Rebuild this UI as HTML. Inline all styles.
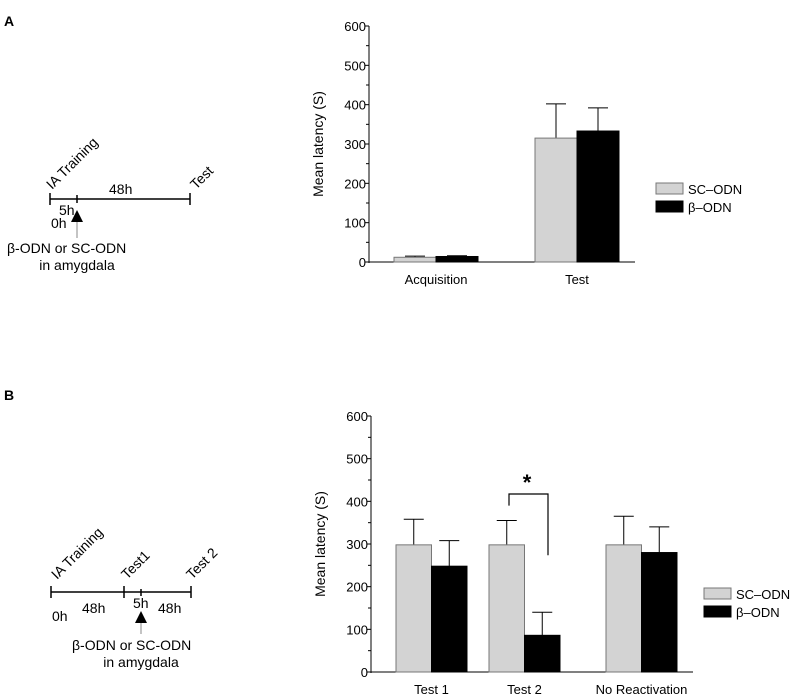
<!DOCTYPE html>
<html><head><meta charset="utf-8"><style>
html,body{margin:0;padding:0;background:#fff}
svg{display:block;font-family:"Liberation Sans",Arial,sans-serif}
</style></head><body>
<svg id="fig" width="797" height="696" viewBox="0 0 797 696">
<text x="4" y="26" font-size="14" font-weight="bold">A</text>
<text x="4" y="400" font-size="14" font-weight="bold">B</text>

<g stroke="#000" stroke-width="1.5" font-size="14">
<line x1="50" y1="199" x2="190" y2="199"/>
<line x1="50" y1="193" x2="50" y2="205"/>
<line x1="77" y1="195" x2="77" y2="203"/>
<line x1="190" y1="193" x2="190" y2="205"/>
<line x1="77" y1="222" x2="77" y2="238" stroke="#888" stroke-width="1"/>
<polygon points="77,210 71,222 83,222" fill="#000" stroke="none"/>
<g stroke="none" fill="#000">
<text transform="translate(52,190) rotate(-45)">IA Training</text>
<text transform="translate(196,190) rotate(-45)">Test</text>
<text x="109" y="194">48h</text>
<text x="59" y="215">5h</text>
<text x="51" y="228">0h</text>
<text x="7" y="253">β-ODN or SC-ODN</text>
<text x="77" y="270" text-anchor="middle">in amygdala</text>
</g></g>

<g stroke="#000" stroke-width="1.5" font-size="14">
<line x1="51" y1="592" x2="191" y2="592"/>
<line x1="51" y1="586" x2="51" y2="598"/>
<line x1="124" y1="586" x2="124" y2="598"/>
<line x1="141" y1="589" x2="141" y2="596"/>
<line x1="191" y1="586" x2="191" y2="598"/>
<line x1="141" y1="622" x2="141" y2="634" stroke="#888" stroke-width="1"/>
<polygon points="141,611 135,623 147,623" fill="#000" stroke="none"/>
<g stroke="none" fill="#000">
<text transform="translate(57,580) rotate(-45)">IA Training</text>
<text transform="translate(127,580) rotate(-45)">Test1</text>
<text transform="translate(192,580) rotate(-45)">Test 2</text>
<text x="52" y="621">0h</text>
<text x="82" y="613">48h</text>
<text x="133" y="608">5h</text>
<text x="158" y="613">48h</text>
<text x="72" y="650">β-ODN or SC-ODN</text>
<text x="141" y="667" text-anchor="middle">in amygdala</text>
</g></g>
<g id="chartA"></g>
<g id="chartB"></g>
</svg>
<script>
const catsA = ["Acquisition", "Test"];
const scA = [12, 315];
const scErrA = [15, 402];
const bA = [14, 333];
const bErrA = [16, 392];
const catsB = ["Test 1", "Test 2", "No Reactivation"];
const scB = [298, 298, 298];
const scErrB = [358, 355, 365];
const bB = [248, 86, 280];
const bErrB = [308, 140, 340];
const yTicks = [0, 100, 200, 300, 400, 500, 600];
const legendLabels = ["SC\u2013ODN", "\u03b2\u2013ODN"];
const NS = "http://www.w3.org/2000/svg";
function mk(parent, tag, attrs, text) {
  const e = document.createElementNS(NS, tag);
  for (const k in attrs) e.setAttribute(k, attrs[k]);
  if (text !== undefined) e.textContent = text;
  parent.appendChild(e);
  return e;
}
function drawChart(g, cfg, cats, sc, scE, b, bE) {
  const y = v => cfg.y0 - v / 600 * (cfg.y0 - cfg.y600);
  let ax = mk(g, "line", {x1: cfg.ax, y1: cfg.y600, x2: cfg.ax, y2: cfg.y0 + 1, stroke: "#000", "stroke-width": 1});
  
  
  let xa = mk(g, "line", {x1: cfg.ax, y1: cfg.y0, x2: cfg.xEnd, y2: cfg.y0, stroke: "#000", "stroke-width": 1});
  
  
  for (let i = 0; i < yTicks.length; i++) {
    const t = yTicks[i];
    mk(g, "line", {x1: cfg.ax - 4, y1: y(t), x2: cfg.ax, y2: y(t), stroke: "#000"});
    if (i < yTicks.length - 1) mk(g, "line", {x1: cfg.ax - 3, y1: y(t + 50), x2: cfg.ax, y2: y(t + 50), stroke: "#000"});
    const tl = mk(g, "text", {x: cfg.ax - 3, y: y(t) + 5, "font-size": 13, "text-anchor": "end"}, String(t));
    
    
  }
  const yt = mk(g, "text", {transform: `translate(${cfg.ax - 46},${(cfg.y0 + cfg.y600) / 2}) rotate(-90)`, "font-size": 14, "text-anchor": "middle"}, "Mean latency (S)");
  
  
  for (let i = 0; i < cats.length; i++) {
    const x0 = cfg.starts[i], w = cfg.bw;
    [[sc[i], scE[i], "#d3d3d3", x0, "bar-sc-odn"], [b[i], bE[i], "#000", x0 + w, "bar-b-odn"]].forEach(([v, e, col, bx, nm]) => {
      const cx = bx + w / 2;
      const el = mk(g, "line", {x1: cx, y1: y(e), x2: cx, y2: y(v), stroke: "#000", "stroke-width": 1});
      
      
      mk(g, "line", {x1: cx - 10, y1: y(e), x2: cx + 10, y2: y(e), stroke: "#000", "stroke-width": 1});
      const r = mk(g, "rect", {x: bx, y: y(v), width: w, height: cfg.y0 - y(v), fill: col, stroke: col === "#000" ? "#000" : "#777", "stroke-width": 1});
      
      
    });
    const cl = mk(g, "text", {x: x0 + w, y: cfg.y0 + 22, "font-size": 13, "text-anchor": "middle"}, cats[i]);
    
    
  }
  const cols = ["#d3d3d3", "#000"];
  for (let i = 0; i < 2; i++) {
    const ly = cfg.legY + i * 18;
    const lr = mk(g, "rect", {x: cfg.legX, y: ly, width: 27, height: 11, fill: cols[i], stroke: i ? "#000" : "#777"});
    
    
    const lt = mk(g, "text", {x: cfg.legX + 32, y: ly + 11, "font-size": 13}, legendLabels[i]);
    
    
  }
  return y;
}
drawChart(document.getElementById("chartA"),
  {ax: 369, y0: 262, y600: 26, xEnd: 635, starts: [394, 535], bw: 42, legX: 656, legY: 183},
  catsA, scA, scErrA, bA, bErrA);
const yB = drawChart(document.getElementById("chartB"),
  {ax: 371, y0: 672, y600: 416, xEnd: 693, starts: [396, 489, 606], bw: 35.5, legX: 704, legY: 588},
  catsB, scB, scErrB, bB, bErrB);
const gB = document.getElementById("chartB");
const br = mk(gB, "polyline", {points: `509,${yB(Math.max(scErrB[1], scB[1]) + 35)} 509,494 548,494 548,${yB(bB[1]) - 80 > 546 ? yB(bB[1]) - 80 : 546}`, fill: "none", stroke: "#000", "stroke-width": 1.2});


const st = mk(gB, "text", {x: 527, y: 490, "font-size": 22, "font-weight": "bold", "text-anchor": "middle"}, "*");


</script>
</body></html>
